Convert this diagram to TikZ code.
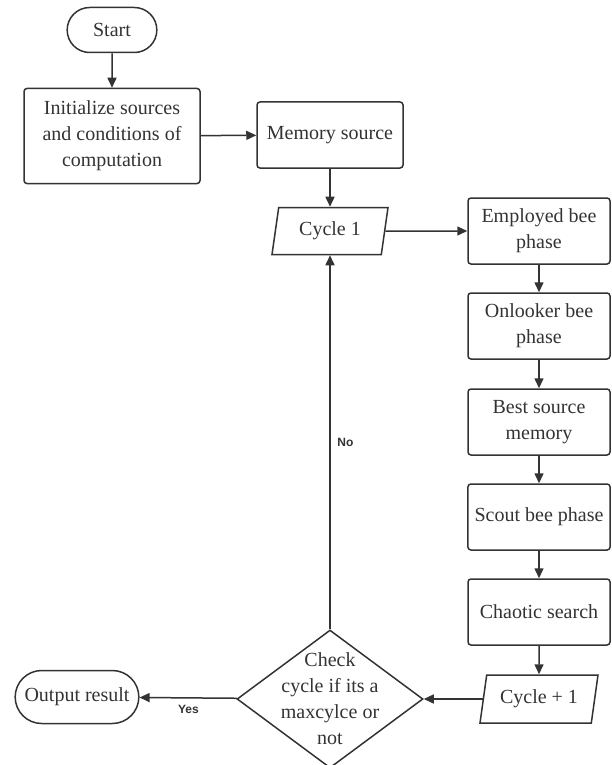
\documentclass[tikz,border=0pt]{standalone}
\usepackage{fontspec}
\setmainfont{Liberation Serif}
\setsansfont{Liberation Sans}
\usepackage{tikz}
\usetikzlibrary{shapes.geometric, shapes.misc, arrows.meta}
\definecolor{ink}{HTML}{333333}
\tikzstyle{arrow} = [line width=0.75pt, draw=ink, -{Triangle[length=5pt, width=4.5pt]}]
\tikzstyle{process} = [draw=ink, line width=0.75pt, rectangle, rounded corners=1.5pt, align=center, text=ink]
\tikzstyle{terminal} = [draw=ink, line width=0.75pt, rounded rectangle, align=center, text=ink]
\tikzstyle{io} = [draw=ink, line width=0.75pt, trapezium, trapezium left angle=78, trapezium right angle=102, trapezium stretches body, text=ink]
\tikzstyle{decision} = [draw=ink, line width=0.75pt, diamond, inner xsep=-10pt, inner ysep=-20pt, align=center, text=ink]
\tikzstyle{answer} = [font=\sffamily\bfseries\fontsize{6}{7}\selectfont, text=ink]

\begin{document}
\begin{tikzpicture}[x=0.5pt, y=-0.5pt, every node/.style={font=\fontsize{10}{13}\selectfont}]
\useasboundingbox (0,0) rectangle (611,765);

% Left column
\node (start) at (112,30) [terminal, minimum width=51.5pt, minimum height=22.5pt] {Start};
\node (init) at (112,136) [process, minimum width=88pt, minimum height=47.5pt] {Initialize sources\\and conditions of\\computation};
\node (memory) at (330,135) [process, minimum width=73pt, minimum height=33pt] {Memory source};
\node (cycle) at (330,231) [io, minimum width=58pt, minimum height=23.5pt] {Cycle 1};

% Bee phases
\node (employed) at (539,231) [process, minimum width=71pt, minimum height=33pt] {Employed bee\\phase};
\node (onlooker) at (539,326) [process, minimum width=71pt, minimum height=33pt] {Onlooker bee\\phase};
\node (best) at (539,422) [process, minimum width=71pt, minimum height=33pt] {Best source\\memory};
\node (scout) at (539,517) [process, minimum width=71pt, minimum height=33pt] {Scout bee phase};
\node (chaotic) at (539,612) [process, minimum width=71pt, minimum height=33pt] {Chaotic search};
\node (nextcycle) at (539,699) [io, minimum width=59pt, minimum height=24pt] {Cycle + 1};

% Decision and output
\node (check) at (330,699) [decision, minimum width=93pt, minimum height=69pt] {Check\\cycle if its a\\maxcylce or\\not};
\node (output) at (77,697) [terminal, minimum width=68.5pt, minimum height=26.5pt] {Output result};

% Flow
\draw [arrow] (start) -- (init);
\draw [arrow] (init) -- (memory);
\draw [arrow] (memory) -- (cycle);
\draw [arrow] (cycle) -- (employed);
\draw [arrow] (employed) -- (onlooker);
\draw [arrow] (onlooker) -- (best);
\draw [arrow] (best) -- (scout);
\draw [arrow] (scout) -- (chaotic);
\draw [arrow] (chaotic) -- (nextcycle);
\draw [arrow] (nextcycle) -- (check);
\draw [arrow] (check) -- node[answer, below] {Yes} (output);
\draw [arrow] (check) -- node[answer, right] {No} (cycle);

\end{tikzpicture}
\end{document}
